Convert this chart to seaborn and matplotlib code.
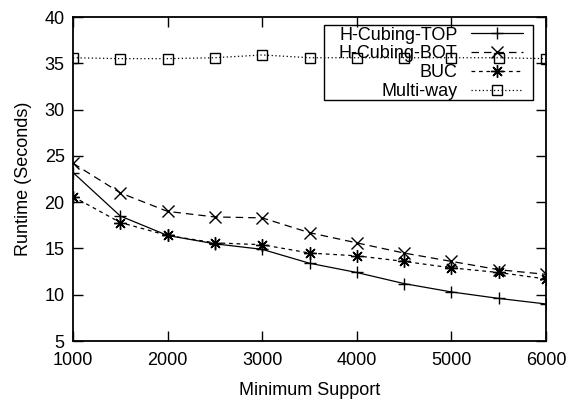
import matplotlib
matplotlib.use("Agg")
import matplotlib.pyplot as plt
from matplotlib.patches import Rectangle
import seaborn as sns
import pandas as pd

min_support = [1000, 1500, 2000, 2500, 3000, 3500, 4000, 4500, 5000, 5500, 6000]
hcubing_top = [23.2, 18.5, 16.4, 15.5, 14.9, 13.4, 12.4, 11.2, 10.3, 9.6, 9.0]
hcubing_bot = [24.2, 21.0, 19.0, 18.4, 18.3, 16.7, 15.6, 14.5, 13.6, 12.7, 12.2]
buc = [20.6, 17.8, 16.4, 15.6, 15.4, 14.5, 14.2, 13.6, 12.9, 12.4, 11.7]
multi_way = [35.6, 35.5, 35.5, 35.6, 35.9, 35.6, 35.6, 35.6, 35.6, 35.6, 35.5]
series_names = ["H-Cubing-TOP", "H-Cubing-BOT", "BUC", "Multi-way"]
x_ticks = [1000, 2000, 3000, 4000, 5000, 6000]
y_ticks = [5, 10, 15, 20, 25, 30, 35, 40]

sns.set_style("ticks")
plt.rcParams["font.family"] = ["Liberation Sans", "DejaVu Sans"]
plt.rcParams["font.size"] = 13
plt.rcParams["text.color"] = "black"
plt.rcParams["axes.labelcolor"] = "black"
plt.rcParams["xtick.color"] = "black"
plt.rcParams["ytick.color"] = "black"

fig = plt.figure(figsize=(5.71, 3.99), dpi=100)
ax = fig.add_axes([73 / 571, 1 - 341 / 399, 473 / 571, 324 / 399])

values = [hcubing_top, hcubing_bot, buc, multi_way]
styles = [
    dict(linestyle="-", marker="+", markersize=9, markeredgewidth=1.0,
         markerfacecolor="black"),
    dict(linestyle=(0, (6, 4)), marker="x", markersize=8, markeredgewidth=1.0,
         markerfacecolor="black"),
    dict(linestyle=(0, (3, 3)), marker=(8, 2, 0), markersize=9, markeredgewidth=1.0,
         markerfacecolor="black"),
    dict(linestyle=(0, (1, 2)), marker="s", markersize=7.5, markeredgewidth=1.0,
         markerfacecolor="none"),
]
for name, vals in zip(series_names, values):
    df = pd.DataFrame({"x": min_support, "y": vals})
    sns.lineplot(data=df, x="x", y="y", ax=ax, color="black", linewidth=0.9,
                 label=name)

for line, st in zip(ax.lines, styles):
    line.set_linestyle(st["linestyle"])
    line.set_marker(st["marker"])
    line.set_markersize(st["markersize"])
    line.set_markeredgewidth(st["markeredgewidth"])
    line.set_markeredgecolor("black")
    line.set_markerfacecolor(st["markerfacecolor"])

ax.set_xlim(1000, 6000)
ax.set_ylim(5, 40)
ax.set_xticks(x_ticks)
ax.set_yticks(y_ticks)
ax.set_xlabel("Minimum Support", labelpad=9)
ax.set_ylabel("Runtime (Seconds)", labelpad=9)
ax.tick_params(direction="in", length=7, width=1, top=True, right=True,
               labelsize=13, pad=6, colors="black")
ax.tick_params(axis="x", pad=8)
for s in ax.spines.values():
    s.set_visible(True)
    s.set_linewidth(1.3)
    s.set_color("black")

leg = ax.legend(handles=ax.lines, labels=series_names,
                loc="upper right", bbox_to_anchor=((527 - 73) / 473, 1 - (23 - 17) / 324),
                borderaxespad=0, markerfirst=False, frameon=False,
                handlelength=2.9, labelspacing=0.1,
                handletextpad=0.75, borderpad=0.2, fontsize=13)

# legend box (gnuplot-style key frame)
x0, x1 = (324 - 73) / 473, (533 - 73) / 473
y1, y0 = 1 - (25 - 17) / 324, 1 - (100 - 17) / 324
ax.add_patch(Rectangle((x0, y0), x1 - x0, y1 - y0, transform=ax.transAxes,
                       fill=False, edgecolor="black", linewidth=1.0, zorder=5))

fig.savefig("out.png", dpi=100)
